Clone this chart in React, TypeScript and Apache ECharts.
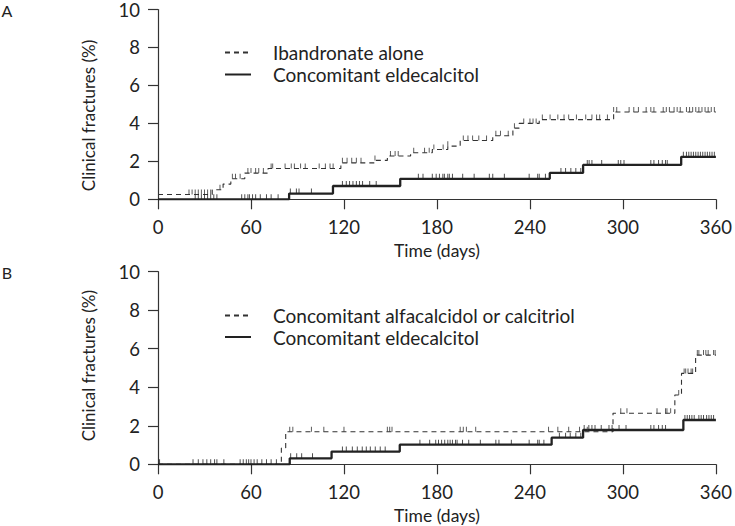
import { useEffect, useRef } from "react";
import * as echarts from "echarts";

const FONT = "Lato, 'Noto Sans', sans-serif";
const INK = "#222";

// Panel A: Ibandronate alone (dashed)
const ibandTimes = [0, 35, 42, 47, 56, 71, 118, 140, 148, 163, 177, 187, 195, 216, 229, 233, 246, 294];
const ibandValues = [0.25, 0.5, 0.8, 1.08, 1.38, 1.62, 1.92, 2.05, 2.28, 2.45, 2.62, 2.8, 3.1, 3.35, 3.75, 4.0, 4.2, 4.6];
const ibandCensor = [
  20, 22, 24, 26, 28, 30, 32, 34, 40, 48, 50, 53, 58, 60, 63, 65, 68, 73, 74, 82, 86, 88, 92, 95,
  104, 108, 111, 113, 119, 122, 125, 128, 131, 140, 150, 153, 155, 165, 172, 175, 178, 184, 187,
  197, 200, 203, 207, 212, 218, 221, 226, 230, 236, 240, 242, 244, 248, 253, 258, 262, 265, 270,
  276, 280, 283, 285, 290, 294, 296, 304, 307, 310, 315, 318, 320, 326, 328, 330, 333, 335, 337,
  341, 343, 345, 347, 349, 351, 353, 355, 357, 359,
];

// Panel A: Concomitant eldecalcitol (solid)
const eldATimes = [0, 84.6, 112.9, 156.3, 252.8, 274.3, 337.6];
const eldAValues = [0, 0.3, 0.7, 1.08, 1.39, 1.81, 2.24];
const eldACensor = [
  24, 26, 28, 30, 32, 34, 36, 38, 54, 56, 58, 59, 61, 63, 66, 70, 73, 77.5, 85.4, 89.3, 91, 99,
  119, 121.5, 123.6, 125.8, 128, 130, 132, 136.6, 140.8, 168, 171, 177, 179.5, 181.6, 183.8,
  184.8, 187, 188, 190, 196.6, 204, 213.8, 216, 223.5, 239.5, 245, 246, 250, 260, 263, 266.4,
  269.6, 272.8, 277, 278.2, 280, 286.3, 297, 298.6, 300.7, 318, 320, 323, 325.4, 327.5, 328.6,
  339, 341, 342.5, 344, 345.5, 347, 348.5, 350, 351.5, 353, 354.5, 356, 357.5, 359,
];

// Panel B: Concomitant alfacalcidol or calcitriol (dashed)
const alfaTimes = [0, 79.6, 82.4, 293.6, 333.5, 337.8, 346.9];
const alfaValues = [0, 0.85, 1.69, 2.65, 3.6, 4.72, 5.67];
const alfaCensor = [
  85, 87, 99, 107, 120, 148, 149.5, 151, 195, 197, 199, 205, 252, 258, 265, 272, 277,
  298.6, 302.6, 322, 327.5, 328.4, 330.8, 336, 339.5, 340.5, 342, 344, 345,
  348, 349, 352, 353.5, 355, 358.5, 359.5,
];

// Panel B: Concomitant eldecalcitol (solid)
const eldBTimes = [0, 85, 112, 156, 254, 274.3, 339];
const eldBValues = [0, 0.31, 0.66, 1.02, 1.38, 1.78, 2.3];
const eldBCensor = [
  1, 22.6, 26, 29, 31.5, 34, 36.5, 38, 42.5, 53, 55, 57, 58.5, 60, 62, 64, 67, 70, 73, 76.4,
  85.6, 89.5, 92.7, 99.7, 119, 121.5, 125.4, 128.6, 131.8, 134.4, 137, 140.2, 143.4, 146.6,
  169, 175.3, 179.2, 181, 183, 185, 187, 188.5, 190, 192, 193, 196.5, 200.5, 208, 218, 220, 228,
  239.5, 245, 246, 249, 259, 263, 266, 269.6, 272.8, 275, 278, 280, 282, 286, 291, 293, 297.5,
  302, 318, 320, 323, 325.4, 327.5, 340, 341.5, 343, 344.5, 346, 349, 350.5, 352, 354, 355.5,
  357, 358.5,
];

const END = 360;

function stepData(times: number[], values: number[]) {
  const pts = times.map((t, i) => [t, values[i]]);
  pts.push([END, values[values.length - 1]]);
  return pts;
}

function levelAt(times: number[], values: number[], t: number) {
  let v = values[0];
  for (let i = 0; i < times.length; i++) {
    if (times[i] <= t) v = values[i];
  }
  return v;
}

function censorData(times: number[], values: number[], censor: number[]) {
  return censor.map((t) => [t, levelAt(times, values, t)]);
}

const dashedStyle = { color: "#333", width: 1.1, type: [5, 4] as number[] };
const solidStyle = { color: INK, width: 2.3, type: "solid" as const };

function stepSeries(name: string, idx: number, data: number[][], lineStyle: any, z: number) {
  return {
    name,
    type: "line",
    xAxisIndex: idx,
    yAxisIndex: idx,
    step: "end",
    symbol: "none",
    data,
    lineStyle,
    itemStyle: { color: lineStyle.color },
    z,
  };
}

function censorSeries(idx: number, data: number[][], color: string) {
  return {
    type: "scatter",
    xAxisIndex: idx,
    yAxisIndex: idx,
    symbol: "rect",
    symbolSize: [1, 5],
    symbolOffset: [0, -2.5],
    itemStyle: { color },
    data,
    z: 5,
  };
}

function xAxisFor(idx: number) {
  return {
    type: "value",
    gridIndex: idx,
    min: 0,
    max: 360,
    interval: 60,
    name: "Time (days)",
    nameLocation: "middle",
    nameGap: 42,
    nameTextStyle: { fontFamily: FONT, fontSize: 17.5, color: INK },
    axisLine: { show: true, lineStyle: { color: "#333", width: 1.2 } },
    axisTick: { show: true, length: 10, lineStyle: { color: "#333", width: 1.2 } },
    axisLabel: { fontFamily: FONT, fontSize: 18.5, color: INK, margin: 18.5 },
    splitLine: { show: false },
  };
}

function yAxisFor(idx: number) {
  return {
    type: "value",
    gridIndex: idx,
    min: 0,
    max: 10,
    interval: 2,
    axisLine: { show: true, lineStyle: { color: "#333", width: 1.2 } },
    axisTick: { show: true, length: 10, lineStyle: { color: "#333", width: 1.2 } },
    axisLabel: { fontFamily: FONT, fontSize: 18.5, color: INK, margin: 18, lineHeight: 11 },
    splitLine: { show: false },
  };
}

function legendFor(names: string[], top: number, gap: number) {
  return {
    data: names,
    orient: "vertical",
    left: 224,
    top,
    padding: 0,
    itemWidth: 26,
    itemHeight: 14,
    itemGap: gap,
    selectedMode: false,
    itemStyle: { opacity: 0 },
    textStyle: {
      fontFamily: FONT,
      fontSize: 19,
      lineHeight: 14,
      color: INK,
      padding: [0, 0, 0, 17],
    },
  };
}

export default function App() {
  const chartRef = useRef<HTMLDivElement>(null);

  useEffect(() => {
    if (!chartRef.current) return;
    const chart = echarts.init(chartRef.current, null, { renderer: "svg" });

    const yName = (y: number) => ({
      type: "text",
      x: 88,
      y,
      rotation: Math.PI / 2,
      style: {
        text: "Clinical fractures (%)",
        fontFamily: FONT,
        fontSize: 17,
        fill: INK,
        align: "center",
        verticalAlign: "middle",
      },
    });

    const panelLetter = (text: string, y: number) => ({
      type: "text",
      x: 7,
      y,
      style: {
        text,
        fontFamily: FONT,
        fontSize: 16,
        fill: INK,
        align: "center",
        verticalAlign: "middle",
      },
    });

    chart.setOption({
      animation: false,
      backgroundColor: "#fff",
      grid: [
        { left: 158, right: 18, top: 5.7, height: 193.6 },
        { left: 158, right: 18, top: 271.7, height: 192.6 },
      ],
      xAxis: [xAxisFor(0), xAxisFor(1)],
      yAxis: [yAxisFor(0), yAxisFor(1)],
      legend: [
        legendFor(["Ibandronate alone", "Concomitant eldecalcitol"], 43, 3),
        legendFor(["Concomitant alfacalcidol or calcitriol", "Concomitant eldecalcitol"], 306, 2.5),
      ],
      graphic: [panelLetter("A", 10.5), panelLetter("B", 272), yName(115.5), yName(365.7)],
      series: [
        stepSeries("Ibandronate alone", 0, stepData(ibandTimes, ibandValues), dashedStyle, 2),
        stepSeries("Concomitant eldecalcitol", 0, stepData(eldATimes, eldAValues), solidStyle, 3),
        censorSeries(0, censorData(ibandTimes, ibandValues, ibandCensor), "#333"),
        censorSeries(0, censorData(eldATimes, eldAValues, eldACensor), INK),
        stepSeries(
          "Concomitant alfacalcidol or calcitriol",
          1,
          stepData(alfaTimes, alfaValues),
          dashedStyle,
          2
        ),
        stepSeries("Concomitant eldecalcitol", 1, stepData(eldBTimes, eldBValues), solidStyle, 3),
        censorSeries(1, censorData(alfaTimes, alfaValues, alfaCensor), "#333"),
        censorSeries(1, censorData(eldBTimes, eldBValues, eldBCensor), INK),
      ],
    });

    const handleResize = () => chart.resize();
    window.addEventListener("resize", handleResize);

    return () => {
      window.removeEventListener("resize", handleResize);
      chart.dispose();
    };
  }, []);

  return (
    <div
      ref={chartRef}
      style={{ position: "absolute", left: 0, top: 0, width: 735, height: 526 }}
    />
  );
}
